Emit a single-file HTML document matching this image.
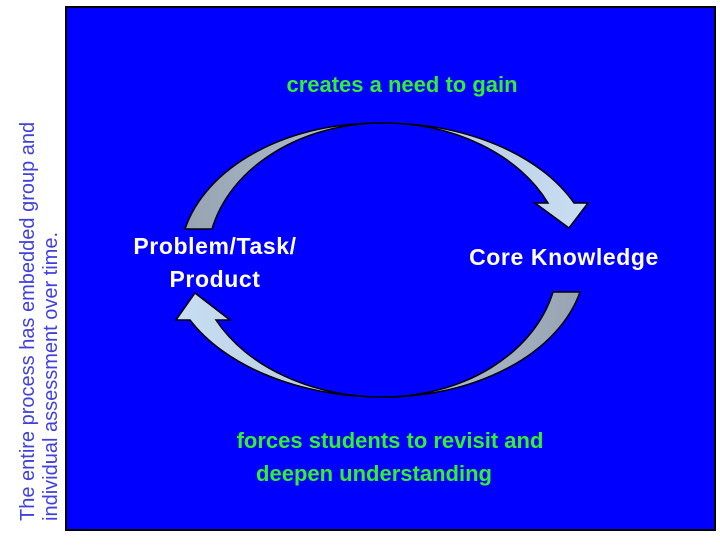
<!DOCTYPE html>
<html><head><style>
body{margin:0;width:720px;height:540px;background:#fff;overflow:hidden}
</style></head><body>
<svg width="720" height="540" xmlns="http://www.w3.org/2000/svg">
<defs>
<linearGradient id="g1" x1="0" x2="1" y1="0" y2="0"><stop offset="0" stop-color="#97a3b1"/><stop offset="0.5" stop-color="#b4c6d8"/><stop offset="1" stop-color="#c8def2"/></linearGradient>
<linearGradient id="g2" x1="1" x2="0" y1="0" y2="0"><stop offset="0" stop-color="#97a3b1"/><stop offset="0.5" stop-color="#b4c6d8"/><stop offset="1" stop-color="#c8def2"/></linearGradient>
</defs>
<rect x="66" y="7" width="649" height="523" fill="#0000ff" stroke="#000" stroke-width="2"/>
<path d="M185,229 A198,137 0 0 1 383,123 A210,137 0 0 1 574,203 L588,203 L569,228 L535,203 L548,203 A181,137 0 0 0 383,123 A175,137 0 0 0 212,229 Z" fill="url(#g1)" stroke="#000" stroke-width="1.5"/>
<path d="M580,292 A202,137 0 0 1 383,397 A215,137 0 0 1 190,320 L176,320 L195,293 L230,320 L216,320 A186,137 0 0 0 383,397 A175,137 0 0 0 553,292 Z" fill="url(#g2)" stroke="#000" stroke-width="1.5"/>
<g font-family="Liberation Sans, sans-serif" font-weight="bold" fill="#fff" font-size="23" letter-spacing="0.6" text-anchor="middle">
<text x="215" y="254">Problem/Task/</text>
<text x="215" y="287">Product</text>
<text x="564" y="265">Core Knowledge</text>
</g>
<g font-family="Liberation Sans Narrow, Liberation Sans, sans-serif" font-weight="bold" fill="#33ee33" font-size="22" text-anchor="middle">
<text x="402" y="92">creates a need to gain</text>
<text x="390" y="448">forces students to revisit and</text>
<text x="374" y="481">deepen understanding</text>
</g>
<g font-family="Liberation Sans, sans-serif" fill="#4040dd" font-size="20">
<text transform="translate(34,521) rotate(-90)">The entire process has embedded group and</text>
<text transform="translate(57,521) rotate(-90)">individual assessment over time.</text>
</g>
</svg>
</body></html>
